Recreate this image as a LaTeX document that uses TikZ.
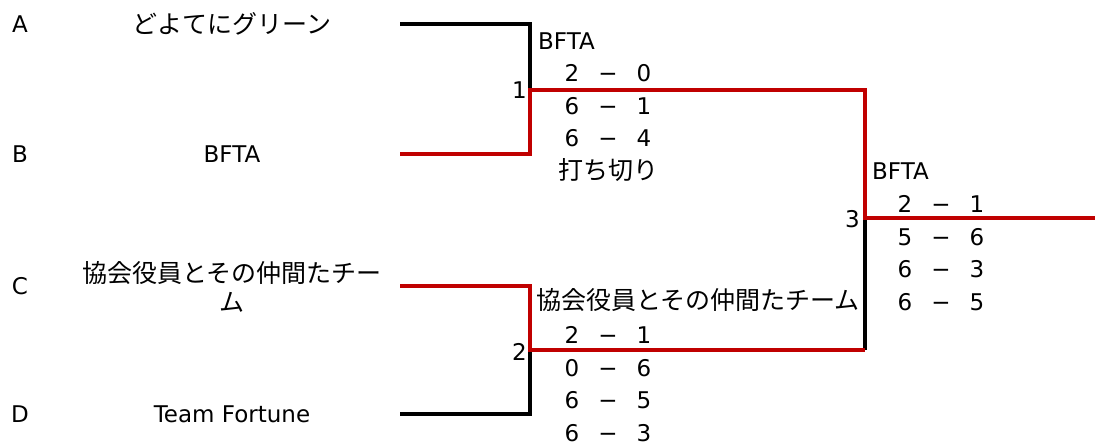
\documentclass[tikz,border=0pt]{standalone}
\usepackage{fontspec}
\setmainfont{DejaVu Sans}
\newfontfamily\jpfont{Noto Sans CJK JP}
\usepackage{tikz}
\usetikzlibrary{positioning}
\usepackage{xcolor}
\definecolor{winred}{RGB}{192,0,0}

\newcommand{\setscore}[2]{\makebox[36pt]{#1}\makebox[36pt]{−}\makebox[36pt]{#2}}

\begin{document}
\begin{tikzpicture}[
      x=1pt, y=-1pt,
      font=\fontsize{23}{29}\selectfont,
      bracket/.style={line join=miter},
      loser/.style={bracket, line width=3.5pt, black},
      winner/.style={bracket, line width=4.5pt, winred},
      seed/.style={inner sep=0pt},
      team/.style={align=center},
      jp/.style={font=\jpfont\fontsize{25}{29}\selectfont},
      row/.style={inner sep=0pt, text height=16pt, text depth=0pt},
      matchno/.style={anchor=east, inner sep=0pt}
    ]

    \useasboundingbox (0,0) rectangle (1095,446);

    % Seeds
    \node[seed] (seedA) at (20,24) {A};
    \node[seed] (seedB) at (20,154) {B};
    \node[seed] (seedC) at (20,286) {C};
    \node[seed] (seedD) at (20,414) {D};

    % Teams
    \node[team, jp] (teamA) at (232,24) {どよてにグリーン};
    \node[team] (teamB) at (232,154) {BFTA};
    \node[team, jp] (teamC) at (232,287) {協会役員とその仲間たチー\\ム};
    \node[team] (teamD) at (232,414) {Team Fortune};

    % Bracket points
    \coordinate (lineA) at (400,24);
    \coordinate (lineB) at (400,154);
    \coordinate (lineC) at (400,286);
    \coordinate (lineD) at (400,414);
    \coordinate (match1) at (530,90);
    \coordinate (match2) at (530,350);
    \coordinate (final) at (865,218);
    \coordinate (champ) at (1095,218);

    % Bracket lines
    \draw[loser] (lineA) -| (match1);
    \draw[loser] (lineD) -| (match2);
    \draw[loser] (match2 -| final) -- (final);
    \draw[winner] (lineB) -| (match1) -- (match1 -| final) -- (final) -- (champ);
    \draw[winner] (lineC) -| (match2) -- (match2 -| final);

    % Match numbers
    \node[matchno] (no1) at (527,90) {1};
    \node[matchno] (no2) at (527,352) {2};
    \node[matchno] (no3) at (860,219) {3};

    % Match 1
    \node[row, anchor=west] (win1) at (538,42) {BFTA};
    \node[row] (set1a) at (608,74) {\setscore{2}{0}};
    \node[row, below=16pt of set1a] (set1b) {\setscore{6}{1}};
    \node[row, below=16pt of set1b] (set1c) {\setscore{6}{4}};
    \node[row, jp, below=16pt of set1c] (note1) {打ち切り};

    % Match 2
    \node[row, jp, anchor=west] (win2) at (536,302) {協会役員とその仲間たチーム};
    \node[row] (set2a) at (608,336) {\setscore{2}{1}};
    \node[row, below=16pt of set2a] (set2b) {\setscore{0}{6}};
    \node[row, below=16pt of set2b] (set2c) {\setscore{6}{5}};
    \node[row, below=16pt of set2c] (set2d) {\setscore{6}{3}};

    % Final
    \node[row, anchor=west] (win3) at (872,172) {BFTA};
    \node[row] (set3a) at (941,205) {\setscore{2}{1}};
    \node[row, below=16pt of set3a] (set3b) {\setscore{5}{6}};
    \node[row, below=16pt of set3b] (set3c) {\setscore{6}{3}};
    \node[row, below=16pt of set3c] (set3d) {\setscore{6}{5}};

  \end{tikzpicture}
\end{document}
